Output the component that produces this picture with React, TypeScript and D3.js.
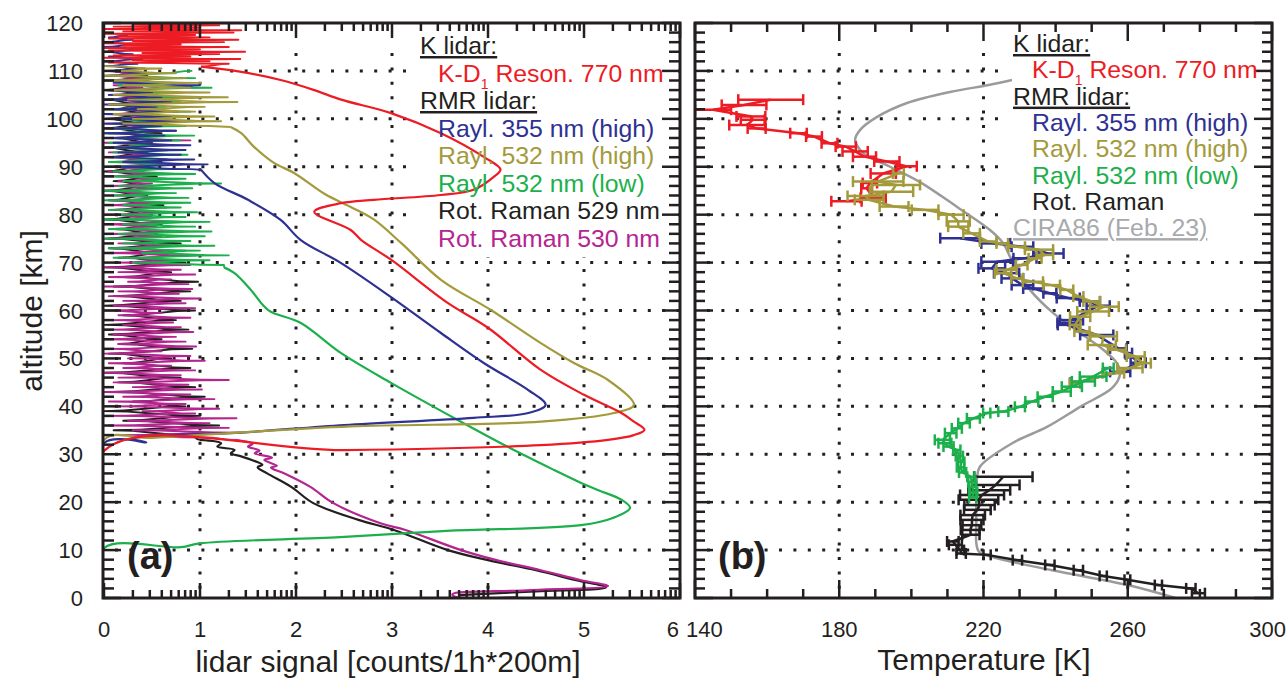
import { useEffect, useRef } from 'react';
import * as d3 from 'd3';

type Pt = [number, number];
type Bar = [number, number, number];

// ---------- panel (a): lidar signal [counts/1h*200m] vs altitude [km]
const signalTicks = [0, 1, 2, 3, 4, 5, 6];
const altitudeTicks = [0, 10, 20, 30, 40, 50, 60, 70, 80, 90, 100, 110, 120];
const temperatureTicks = [140, 180, 220, 260, 300];

// smooth parts of the profiles, [signal, altitude]
const redSignal: Pt[] = [[0, 0], [0, 30.7], [2.5, 30.85], [4.55, 31.9], [5.25, 33], [5.52, 34], [5.63, 35.1], [5.52, 36.8], [5.39, 38.6], [5.0, 42.4], [4.55, 47.6], [4.0, 56.4], [3.58, 61.6], [2.99, 70.6], [2.68, 74.7], [2.57, 76.8], [2.19, 80.6], [2.47, 82.4], [2.81, 83.1], [3.51, 84.1], [3.85, 85.2], [4.06, 87.9], [4.13, 89.4], [3.96, 92], [3.51, 97], [2.99, 101.2], [2.47, 104], [2.19, 106], [1.84, 108.1], [1.43, 109.8], [1.01, 110.9]];
const oliveSignal: Pt[] = [[0, 0], [0, 33], [0.5, 33.4], [1.3, 34.4], [2.57, 35.8], [4.55, 36.8], [5.31, 38.6], [5.52, 40.3], [5.25, 45.5], [4.9, 49], [4.55, 53.2], [4.03, 60.1], [3.51, 66.4], [3.1, 74], [2.81, 79], [2.57, 81.6], [2.3, 84.3], [1.98, 88.7], [1.77, 90.8], [1.56, 94.2], [1.43, 97], [1.32, 98.3]];
const blueSignal: Pt[] = [[0, 0], [0, 32.3], [0.44, 32.5], [0.3, 33.2], [0.7, 34], [1.32, 34.4], [2.5, 36.1], [3.85, 37.6], [4.42, 38.6], [4.6, 40.3], [4.42, 43.4], [3.96, 49], [3.51, 55.3], [2.99, 62.8], [2.47, 69.9], [2.05, 74.7], [1.84, 78.9], [1.5, 83.1], [1.15, 86.6], [1.01, 89.4]];
const greenSignal: Pt[] = [[0, 0], [0, 10.4], [0.8, 10.6], [1.0, 11.4], [2.46, 12.7], [3.57, 14.0], [4.97, 15.2], [5.3, 16.7], [5.48, 18.8], [5.39, 20.5], [5.15, 22.5], [4.97, 24], [4.69, 26.7], [4.2, 31.6], [3.68, 37.2], [2.99, 44.9], [2.47, 51.1], [2.05, 57.4], [1.71, 60.1], [1.53, 64.3], [1.36, 67.8], [1.25, 69]];
const blackSignal: Pt[] = [[3.7, 0.6], [4.5, 1.4], [5.23, 2.2], [4.92, 3.7], [4.5, 5.8], [4.0, 7.9], [3.58, 10], [3.02, 14.2], [2.65, 16.3], [2.18, 19.8], [1.95, 23.2], [1.7, 26], [1.6, 27.3], [1.65, 27.8], [1.54, 28.8], [1.42, 29.6], [1.32, 30.2], [1.36, 30.9], [1.18, 31.6], [1.22, 32.3], [1.0, 33]];
const magentaSignal: Pt[] = [[4.3, 0.2], [3.65, 0.3], [3.63, 0.8], [4.4, 1.6], [5.25, 2.5], [4.97, 3.7], [4.55, 5.8], [4.09, 7.9], [3.72, 10], [3.14, 14.2], [2.88, 15.6], [2.39, 19.8], [2.15, 23.2], [1.88, 26], [1.74, 27.2], [1.8, 27.6], [1.67, 28.8], [1.75, 29.3], [1.57, 30.2], [1.62, 30.8], [1.5, 31.6], [1.55, 32.2], [1.36, 33]];

// noisy upper parts, signal per range bin (start altitude, bin step in km)
const redNoiseStart = 111.5, redNoiseStep = 0.25;
const redNoise = [1.3, 0.05, 1.1, 0.3, 1.42, 0.0, 0.9, 0.1, 1.2, 0.4, 1.47, 0.05, 1.0, 0.0, 1.3, 0.2, 0.8, 0.0, 1.25, 0.3, 1.4, 0.05, 1.1, 0.15, 0.95, 0.0, 1.35, 0.2, 1.43, 0.0, 1.0, 0.1, 1.2, 0.3, 1.4];
const oliveNoiseStart = 98.5, oliveNoiseStep = 0.5;
const oliveNoise = [1.1, 0.2, 1.22, 0.3, 1.15, 0.1, 0.95, 0.35, 1.05, 0.05, 1.39, 0.25, 1.29, 0.1, 1.1, 0.0, 0.9, 0.2, 1.01, 0.05, 0.85, 0.0, 0.75, 0.1, 0.6, 0.0];
const blueNoiseStart = 89.5, blueNoiseStep = 0.5;
const blueNoise = [
  0.9, 0.1, 1.08, 0.2, 0.94, 0.0, 0.8, 0.15, 0.85, 0.0, 0.9, 0.1, 0.7, 0.05,
  0.63, 0.0, 0.75, 0.1, 0.6, 0.0, 0.84, 0.05, 0.7, 0.0, 0.77, 0.1, 0.55, 0.0,
  0.7, 0.0, 0.6, 0.05, 0.5, 0.0, 0.75, 1.0, 0.1, 0.3, 0.65, 0.0, 0.55, 0.0,
  0.42, 0.0, 0.35, 0.0, 0.4, 0.05, 0.3, 0.0, 0.45, 0.0, 0.35, 0.0, 0.3, 0.05, 0.25];
const greenNoiseStart = 69.5, greenNoiseStep = 0.5;
const greenNoise = [
  1.25, 0.3, 1.1, 0.1, 1.3, 0.4, 1.0, 0.05, 1.15, 0.2, 0.9, 0.0, 1.05, 0.15,
  1.12, 0.05, 0.95, 0.2, 1.1, 0.0, 0.85, 0.15, 0.97, 0.05, 0.8, 0.2, 0.9, 0.0,
  0.88, 0.1, 0.75, 0.0, 0.92, 0.15, 1.22, 0.2, 0.85, 0.0, 0.95, 0.1, 0.7, 0.0,
  0.8, 0.05, 0.65, 0.0, 0.87, 0.1, 0.7, 0.0, 0.6, 0.05, 0.8, 0.1, 0.94, 0.0,
  0.7, 0.0, 0.85, 0.1, 0.6, 0.0, 0.75, 0.05, 0.9, 0.0, 0.65, 0.1, 0.8, 0.0,
  1.0, 0.1, 0.7, 0.0, 1.12, 0.15, 0.85, 0.0, 0.95, 0.1, 0.6, 0.92];
const blackNoiseStart = 34, blackNoiseStep = 1;
const blackNoise = [
  0.9, 0.1, 1.2, 0.2, 1.0, 0.0, 0.85, 0.3, 1.05, 0.1, 0.95,
  0.15, 0.8, 0.0, 0.9, 0.2, 0.7, 0.05, 0.92, 0.15, 0.6,
  0.05, 0.88, 0.0, 0.75, 0.2, 0.95, 0.0, 0.8, 0.1, 0.9,
  0.1, 0.98, 0.2, 0.7, 0.0, 0.85, 0.15, 0.6, 0.05, 0.8,
  0.0, 0.55, 0.1, 0.6, 0.0, 0.5, 0.1, 0.62, 0.05, 0.45,
  0.0, 0.5, 0.1, 0.55, 0.0, 0.4, 0.6, 0.05, 0.45, 0.0,
  0.5, 0.1, 0.6, 0.0, 0.45, 0.0, 0.5, 0.1, 0.4, 0.0,
  0.55, 0.0, 0.4, 0.1, 0.45, 0.0];
const magentaNoiseStart = 33.5, magentaNoiseStep = 0.5;
const magentaNoise = [
  1.05, 0.1, 1.42, 0.3, 1.3, 0.05, 1.1, 0.25, 1.38, 0.0, 0.95, 0.4, 1.2, 0.1,
  0.85, 0.05, 1.15, 0.2, 0.9, 0.0, 1.02, 0.3, 0.88, 0.1, 1.3, 0.15, 0.8, 0.0,
  0.95, 0.2, 0.7, 0.05, 1.05, 0.25, 0.9, 0.0, 0.6, 0.05, 0.96, 0.15, 0.85, 0.0,
  0.75, 0.1, 0.93, 0.0, 0.8, 0.2, 0.72, 0.05, 0.9, 0.15, 0.6, 0.0, 0.95, 0.1,
  0.85, 0.2, 1.0, 0.05, 0.78, 0.15, 0.92, 0.0, 0.88, 0.25, 0.7, 0.05, 0.95, 0.15,
  0.8, 0.0, 0.9, 0.1, 0.75, 0.2, 0.95, 0.0, 0.85, 0.1, 0.7, 0.15, 0.8, 0.05,
  0.6, 0.0, 0.75, 0.1, 0.55, 0.0, 0.8, 0.15, 0.5, 0.0, 0.7, 0.05, 0.65, 0.0,
  0.55, 0.05, 0.7, 0.1, 0.45, 0.0, 0.6, 0.05, 0.5, 0.15, 0.65, 0.0, 0.55, 0.05,
  0.5, 0.0, 0.6, 0.1, 0.45, 0.0, 0.55, 0.05, 0.7, 0.1, 0.5, 0.0, 0.9, 0.15,
  0.6, 0.05, 0.75, 0.1, 0.5, 0.0, 0.65, 0.05, 0.55, 0.0, 0.6, 0.1, 0.5, 0.05,
  0.55, 0.0, 0.45, 0.05, 0.6, 0.0, 0.4, 0.1, 0.5, 0.0, 0.45, 0.05, 0.35, 0.0];

// ---------- panel (b): temperature [K], [T, altitude, error]
const kTemp: Bar[] = [[161, 104.0, 9], [153.6, 102.9, 6.2], [145, 101.9, 5], [155.5, 100.5, 4], [156, 99.8, 3.3], [154.5, 98.7, 5], [157.1, 98.0, 2.5], [168.7, 97.0, 2.3], [173, 96.3, 2.2], [177.3, 94.9, 2.2], [181.8, 94.2, 2.8], [184.4, 93.2, 3.5], [187, 92.1, 3.2], [193.2, 91.1, 3.5], [198.7, 90.1, 2.8], [192.2, 88.6, 3.5], [188.5, 86.6, 2], [187.6, 85.5, 1.5], [189.4, 83.5, 3.5], [182, 82.8, 4.2]];
const rayl355Temp: Bar[] = [[213.5, 75.1, 5.5], [223.4, 74.0, 4], [230.8, 73.3, 3], [238, 71.9, 4.2], [231.5, 70.9, 3.2], [223.8, 70.2, 4.4], [222.3, 68.8, 3.7], [226.4, 67.8, 3.5], [228, 66.7, 3], [230.8, 65.3, 3], [233.8, 64.6, 2.8], [238.4, 63.6, 1.8], [243.5, 62.6, 3.2], [249.5, 61.9, 2.8], [251.8, 61.0, 3.2], [244.4, 58.0, 3.2], [243.5, 57.4, 3], [243.1, 57.0, 2.5], [251.4, 54.9, 4.6], [257.4, 52.1, 2.3], [260.2, 51.1, 1], [262.9, 49.1, 2.1], [257.9, 47.2, 2.8], [245.4, 44.9, 1.4]];
const rayl532HighTemp: Bar[] = [[196.4, 88.6, 1.5], [190.8, 86.9, 7], [195.7, 86.2, 6.7], [194.5, 84.8, 6], [187.3, 83.9, 5], [188.3, 83.1, 4], [195.2, 81.7, 4], [203.8, 81.0, 3.7], [211, 80.0, 3.5], [213, 78.6, 3.2], [213, 77.5, 2.8], [216.7, 76.1, 2.3], [221.3, 74.4, 2.3], [225.2, 74.0, 1.6], [229.2, 73.3, 2.3], [235.4, 72.7, 3.9], [237, 71.6, 2.3], [234.3, 70.9, 1.8], [230.6, 69.5, 1.6], [226.4, 68.5, 2.8], [225.4, 67.8, 2.3], [229.3, 66.7, 1.6], [233.7, 66.0, 2.8], [238.9, 65.3, 2.3], [243.1, 64.3, 1.8], [246.3, 62.9, 1.4], [250, 61.9, 2.3], [253.5, 60.8, 4], [250.4, 59.8, 4.4], [246.8, 58.7, 2.8], [245.4, 57.0, 1.5], [247.3, 55.6, 2.1], [253.3, 54.6, 3.7], [252.8, 52.8, 3.9], [257, 51.8, 2.5], [262.2, 50.4, 2.5], [264.3, 49.0, 2.1], [260.6, 48.0, 3.5], [256, 46.9, 3], [245.4, 44.8, 1.5]];
const rayl532LowTemp: Bar[] = [[254.6, 48.0, 1.5], [250.4, 46.2, 3.7], [247.7, 45.2, 3.2], [244.5, 44.1, 2.8], [241.7, 43.1, 2.5], [237.1, 42.0, 2.1], [233.4, 41.0, 1.8], [230.1, 39.9, 1.4], [225.5, 38.9, 1.4], [220.9, 38.6, 1], [217.2, 37.5, 1.8], [214.6, 36.5, 1.6], [212.6, 35.4, 1.4], [210.9, 34.4, 1.6], [208.6, 33.0, 2.1], [209.3, 32.3, 1.8], [210.3, 31.6, 1.4], [212.6, 30.9, 1], [213.3, 29.6, 1], [213.8, 28.4, 0.9], [213.6, 27.3, 1], [214.2, 26.2, 1], [216.5, 25.3, 1], [216.8, 24.2, 1], [217, 23.2, 1], [217.3, 22, 1], [217, 21, 1]];
const ramanTemp: Bar[] = [[225.5, 25.3, 8.1], [223.4, 23.6, 6.6], [221.6, 22.5, 5.8], [219.6, 21.5, 6.1], [218.6, 20.5, 5.5], [218.9, 19.4, 4.2], [218.3, 18.4, 3.7], [217, 17.3, 3.4], [216.8, 16.3, 3.2], [216.8, 15.2, 2.6], [216.3, 14.2, 2.6], [216.5, 13.2, 2.4], [211.5, 11.8, 1.6], [212.2, 11.1, 1.8], [213.6, 10.0, 1], [213.8, 9.3, 1.3], [221, 9.0, 1], [229.4, 7.9, 1.3], [238.4, 6.9, 1.3], [246.3, 5.8, 1.3], [253.2, 4.6, 1], [259.9, 3.8, 0.8], [268.5, 2.7, 1], [277.5, 2.0, 1.3], [279.6, 1.0, 1.8]];
const cira86: Pt[] = [[273.2, 0], [260, 2.7], [239, 5.8], [223.2, 8.4], [218.8, 9.6], [218, 11.5], [218, 15], [218, 20], [218.2, 25], [219, 27.4], [228.2, 32.4], [237.6, 35.7], [246.8, 39.9], [255.9, 44], [257.9, 47], [257, 49], [253.2, 51.8], [246.8, 55.3], [239.3, 59.5], [232.9, 64.3], [228.2, 69.9], [225.4, 74.1], [221.8, 76.8], [212.7, 81.6], [202.4, 86.8], [194.1, 90], [186.6, 92.9], [184.4, 95.6], [185.8, 97.7], [190.5, 100.4], [198.8, 103.3], [210.7, 105.6], [221.8, 107.1], [227.9, 108.1]];

const legendA = ['K lidar:', 'K-D1 Reson. 770 nm', 'RMR lidar:', 'Rayl. 355 nm (high)', 'Rayl. 532 nm (high)', 'Rayl. 532 nm (low)', 'Rot. Raman 529 nm', 'Rot. Raman 530 nm'];
const legendB = ['K lidar:', 'K-D1 Reson. 770 nm', 'RMR lidar:', 'Rayl. 355 nm (high)', 'Rayl. 532 nm (high)', 'Rayl. 532 nm (low)', 'Rot. Raman', 'CIRA86 (Feb. 23)'];

const C = {
  ink: '#231f20',
  red: '#ed1c24',
  blue: '#2e3192',
  olive: '#a39a3c',
  green: '#1cb04c',
  magenta: '#b5258f',
  gray: '#9b9b9b',
  grayText: '#a7a9ac',
};
const legendColorsA = [C.ink, C.red, C.ink, C.blue, C.olive, C.green, C.ink, C.magenta];
const legendColorsB = [C.ink, C.red, C.ink, C.blue, C.olive, C.green, C.ink, C.grayText];

const noisy = (start: number, step: number, vals: number[]): Pt[] => vals.map((v, i) => [v, start + i * step]);

export default function App() {
  const svgRef = useRef<SVGSVGElement | null>(null);

  useEffect(() => {
    if (!svgRef.current) return;
    const svg = d3.select(svgRef.current);
    svg.selectAll('*').remove();

    const font = '"Liberation Sans", Arial, Helvetica, sans-serif';
    const top = 23, bottom = 598;
    const aL = 103, aR = 680, bL = 695, bR = 1272;

    const y = d3.scaleLinear().domain([0, 120]).range([bottom, top]);
    const xa = d3.scaleLinear().domain([0, 6]).range([aL + 1, aR]);
    const xb = d3.scaleLinear().domain([140, 300]).range([bL, bR]);

    const defs = svg.append('defs');
    defs.append('clipPath').attr('id', 'clipA').append('rect')
      .attr('x', aL).attr('y', top).attr('width', aR - aL).attr('height', bottom - top);
    defs.append('clipPath').attr('id', 'clipB').append('rect')
      .attr('x', bL).attr('y', top).attr('width', bR - bL).attr('height', bottom - top);

    // dotted grid
    const grid = svg.append('g').attr('stroke', C.ink).attr('stroke-width', 3).attr('stroke-dasharray', '3,11.4');
    const gridAlt = altitudeTicks.filter(v => v > 0 && v < 120);
    [[aL, aR], [bL, bR]].forEach(([x0, x1]) => {
      gridAlt.forEach(v => {
        grid.append('line').attr('x1', x0 + 12).attr('x2', x1).attr('y1', y(v)).attr('y2', y(v));
      });
    });
    [1, 2, 3, 4, 5].forEach(v => {
      grid.append('line').attr('x1', xa(v)).attr('x2', xa(v)).attr('y1', top + 30).attr('y2', bottom);
    });
    [180, 220, 260].forEach(v => {
      grid.append('line').attr('x1', xb(v)).attr('x2', xb(v)).attr('y1', top + 30).attr('y2', bottom);
    });

    // white legend boxes
    svg.append('rect').attr('x', 410).attr('y', top + 2).attr('width', aR - 412).attr('height', 232).attr('fill', '#fff');
    svg.append('rect').attr('x', 1009).attr('y', top + 2).attr('width', bR - 1011).attr('height', 226).attr('fill', '#fff');

    // ---- panel (a) profiles
    const ga = svg.append('g').attr('clip-path', 'url(#clipA)').attr('fill', 'none').attr('stroke-linejoin', 'round');
    const spikyA = d3.line<Pt>().x(d => xa(d[0])).y(d => y(d[1])).curve(d3.curveBumpX);
    const smoothA = d3.line<Pt>().x(d => xa(d[0])).y(d => y(d[1])).curve(d3.curveCatmullRom.alpha(0.5));
    const profiles: [Pt[], Pt[], string][] = [
      [blackSignal, noisy(blackNoiseStart, blackNoiseStep, blackNoise), C.ink],
      [magentaSignal, noisy(magentaNoiseStart, magentaNoiseStep, magentaNoise), C.magenta],
      [greenSignal, noisy(greenNoiseStart, greenNoiseStep, greenNoise), C.green],
      [blueSignal, noisy(blueNoiseStart, blueNoiseStep, blueNoise), C.blue],
      [oliveSignal, noisy(oliveNoiseStart, oliveNoiseStep, oliveNoise), C.olive],
      [redSignal, noisy(redNoiseStart, redNoiseStep, redNoise), C.red],
    ];
    profiles.forEach(([smooth, noise, color]) => {
      ga.append('path').datum(smooth).attr('stroke', color).attr('stroke-width', 2.2).attr('d', smoothA);
      ga.append('path').datum([smooth[smooth.length - 1], ...noise]).attr('stroke', color)
        .attr('stroke-width', 1.9).attr('d', spikyA);
    });

    // ---- panel (b) temperatures
    const gb = svg.append('g').attr('clip-path', 'url(#clipB)').attr('fill', 'none');
    gb.append('path').datum(cira86).attr('stroke', C.gray).attr('stroke-width', 2.5)
      .attr('d', d3.line<Pt>().x(d => xb(d[0])).y(d => y(d[1])).curve(d3.curveCatmullRom.alpha(0.5)));
    const lineB = d3.line<Bar>().x(d => xb(d[0])).y(d => y(d[1]));
    const bars = (data: Bar[], color: string) => {
      const g = gb.append('g').attr('stroke', color).attr('stroke-width', 2.5);
      g.append('path').datum(data).attr('d', lineB);
      data.forEach(([t, h, e]) => {
        const yy = y(h);
        g.append('line').attr('x1', xb(t - e)).attr('x2', xb(t + e)).attr('y1', yy).attr('y2', yy);
        [t - e, t + e].forEach(v => {
          g.append('line').attr('x1', xb(v)).attr('x2', xb(v)).attr('y1', yy - 5.5).attr('y2', yy + 5.5);
        });
      });
    };
    bars(kTemp, C.red);
    bars(rayl355Temp, C.blue);
    bars(rayl532HighTemp, C.olive);
    bars(ramanTemp, C.ink);
    bars(rayl532LowTemp, C.green);

    // ---- frames and ticks
    const axes = svg.append('g').attr('stroke', C.ink).attr('fill', 'none');
    const tickX = (xs: (v: number) => number, vals: number[], len: number) => {
      vals.forEach(v => {
        axes.append('line').attr('x1', xs(v)).attr('x2', xs(v)).attr('y1', bottom).attr('y2', bottom - len).attr('stroke-width', 2.5);
        axes.append('line').attr('x1', xs(v)).attr('x2', xs(v)).attr('y1', top).attr('y2', top + len).attr('stroke-width', 2.5);
      });
    };
    const tickY = (x0: number, x1: number, vals: number[], len: number) => {
      vals.forEach(v => {
        axes.append('line').attr('x1', x0).attr('x2', x0 + len).attr('y1', y(v)).attr('y2', y(v)).attr('stroke-width', 2.5);
        axes.append('line').attr('x1', x1).attr('x2', x1 - len).attr('y1', y(v)).attr('y2', y(v)).attr('stroke-width', 2.5);
      });
    };
    const logMinor = d3.range(0, 6).flatMap(i => d3.range(2, 10).map(k => i + Math.log10(k)));
    tickX(xa, signalTicks, 15);
    tickX(xa, logMinor, 8);
    const minorAlt = d3.range(0, 121, 2).filter(v => v % 10 !== 0);
    tickY(aL, aR, altitudeTicks, 18);
    tickY(aL, aR, minorAlt, 11);
    tickY(bL, bR, altitudeTicks, 18);
    tickY(bL, bR, minorAlt, 10);
    tickX(xb, d3.range(140, 301, 40), 18);
    tickX(xb, d3.range(150, 300, 10).filter(v => (v - 140) % 40 !== 0), 9);
    axes.append('rect').attr('x', aL).attr('y', top).attr('width', aR - aL).attr('height', bottom - top).attr('stroke-width', 3);
    axes.append('rect').attr('x', bL).attr('y', top).attr('width', bR - bL).attr('height', bottom - top).attr('stroke-width', 3);

    // ---- tick labels and titles
    const txt = svg.append('g').attr('font-family', font).attr('fill', C.ink);
    altitudeTicks.forEach(v => {
      txt.append('text').attr('x', 83).attr('y', y(v) + 8).attr('text-anchor', 'end').attr('font-size', 22).text(v);
    });
    signalTicks.forEach(v => {
      txt.append('text').attr('x', v === 6 ? 679 : xa(v)).attr('y', 637)
        .attr('text-anchor', v === 6 ? 'end' : 'middle').attr('font-size', 22).text(v);
    });
    temperatureTicks.forEach(v => {
      const anchor = v === 140 ? 'start' : v === 300 ? 'end' : 'middle';
      const x = v === 140 ? 686 : v === 300 ? 1286 : xb(v);
      txt.append('text').attr('x', x).attr('y', 637).attr('text-anchor', anchor).attr('font-size', 22).text(v);
    });
    txt.append('text').attr('transform', 'translate(42,311) rotate(-90)').attr('text-anchor', 'middle')
      .attr('font-size', 30).text('altitude [km]');
    txt.append('text').attr('x', 388).attr('y', 672).attr('text-anchor', 'middle').attr('font-size', 30)
      .text('lidar signal [counts/1h*200m]');
    txt.append('text').attr('x', 984).attr('y', 670).attr('text-anchor', 'middle').attr('font-size', 30)
      .text('Temperature [K]');
    txt.append('text').attr('x', 127).attr('y', 569).attr('font-size', 38).attr('font-weight', 'bold').text('(a)');
    txt.append('text').attr('x', 718).attr('y', 569).attr('font-size', 38).attr('font-weight', 'bold').text('(b)');

    // ---- legends
    const legend = (labels: string[], colors: string[], x0: number, indent: number, y0: number, dy: number) => {
      labels.forEach((label, i) => {
        const heading = label.endsWith(':') || label.startsWith('CIRA');
        const t = txt.append('text').attr('x', heading ? x0 : indent).attr('y', y0 + i * dy)
          .attr('font-size', 24.8).attr('fill', colors[i]);
        if (heading) t.style('text-decoration', 'underline');
        if (label.startsWith('K-D1')) {
          t.append('tspan').text('K-D');
          t.append('tspan').attr('font-size', 14).attr('dy', 7).text('1');
          t.append('tspan').attr('dy', -7).text(label.slice(4));
        } else {
          t.text(label);
        }
      });
    };
    legend(legendA, legendColorsA, 420, 438, 54, 27.5);
    legend(legendB, legendColorsB, 1013, 1032, 52, 26.3);
  }, []);

  return (
    <svg ref={svgRef} width={1287} height={682}
      style={{ position: 'absolute', left: 0, top: 0, background: '#fff' }} />
  );
}
